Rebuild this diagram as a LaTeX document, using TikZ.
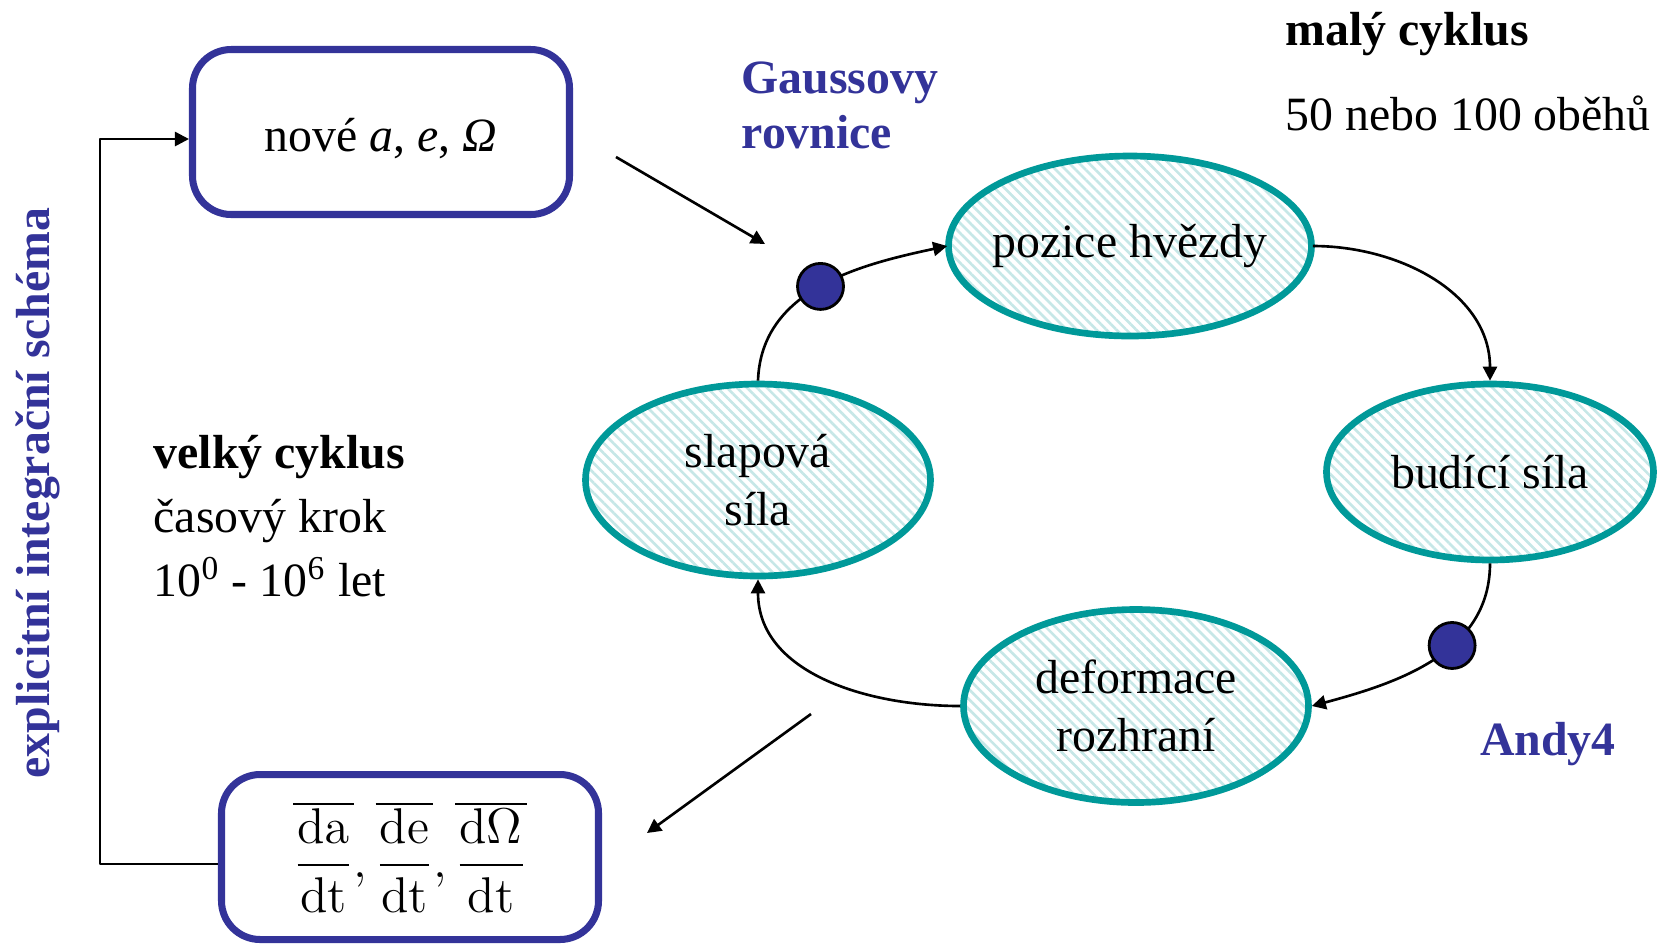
\RequirePackage{fix-cm}
\documentclass[tikz,border=0pt]{standalone}
\usepackage[no-math]{fontspec}
\setmainfont{Liberation Serif}
\usetikzlibrary{arrows.meta,shapes.geometric,patterns.meta}
\definecolor{boxblue}{RGB}{51,51,153}
\definecolor{ringteal}{RGB}{0,153,153}
\definecolor{hatchteal}{RGB}{198,231,231}
\tikzset{
	orbit/.style={ellipse, draw=ringteal, line width=1.9pt, align=center, inner sep=0pt,
		pattern={Lines[angle=-45,distance=2pt,line width=0.75pt]}, pattern color=hatchteal},
	elbox/.style={draw=boxblue, line width=2pt, rounded corners=11pt, minimum width=3.77cm, minimum height=1.65cm},
	knot/.style={circle, draw=black, line width=0.8pt, fill=boxblue, minimum size=0.46cm, inner sep=0pt},
	arr/.style={-{Triangle[length=4pt,width=4pt]}, line width=0.75pt},
	note/.style={inner sep=0pt, align=left},
}
\begin{document}
\fontsize{13.6}{16.5}\selectfont
\begin{tikzpicture}[line join=round]
	\useasboundingbox (0,0) rectangle (16.59,-9.43);
	\fill[white] (0,0) rectangle (16.59,-9.43);
	% malý cyklus
	\node[orbit, inner xsep=-0.12cm, minimum width=3.63cm, minimum height=1.80cm] (poz) at (11.30,-2.46) {pozice hvězdy};
	\node[orbit, minimum width=3.27cm, minimum height=1.76cm] (bud) at (14.90,-4.72) {budící síla};
	\node[orbit, minimum width=3.45cm, minimum height=1.93cm] (def) at (11.36,-7.06) {deformace\\rozhraní};
	\node[orbit, minimum width=3.45cm, minimum height=1.92cm] (slap) at (7.58,-4.80) {slapová\\síla};
	\draw[arr] (slap.north) to[out=88,in=192] node[knot, pos=0.5] (k1) {} (poz.west);
	\draw[arr] (poz.east) to[out=0,in=90] (bud.north);
	\draw[arr] (bud.south) to[out=-90,in=15] node[knot, pos=0.4] (k2) {} (def.east);
	\draw[arr] (def.west) to[out=180,in=-90] (slap.south);
	% velký cyklus
	\node[elbox, text height=13pt] (nove) at (3.81,-1.32) {nové \textit{a}, \textit{e}, \textit{Ω}};
	\node[elbox, font=\fontsize{14.3}{17}\selectfont] (deriv) at (4.10,-8.57) {$\displaystyle\overline{\frac{\mathrm{da}}{\mathrm{dt}}},\overline{\frac{\mathrm{de}}{\mathrm{dt}}},\overline{\frac{\mathrm{d}\Omega}{\mathrm{dt}}}$};
	\draw[arr] ([yshift=-0.07cm]deriv.west) -- ++(-1.18,0) |- ([yshift=-0.07cm]nove.west);
	\coordinate (g1) at (6.16,-1.57);
	\coordinate (g2) at (7.65,-2.44);
	\draw[arr] (g1) -- (g2);
	\coordinate (d1) at (8.11,-7.14);
	\coordinate (d2) at (6.47,-8.33);
	\draw[arr] (d1) -- (d2);
	% popisky
	\node[note, anchor=north west, text=boxblue, font=\bfseries] (gauss) at (7.41,-0.61) {Gaussovy\\[-0.9pt]rovnice};
	\node[note, anchor=base west, font=\bfseries] (maly) at (12.85,-0.45) {malý cyklus};
	\node[note, anchor=base west] (obehy) at (12.85,-1.30) {50 nebo 100 oběhů};
	\node[note, anchor=north west] (velky) at (1.53,-4.35) {\textbf{velký cyklus}\\[1.7pt]časový krok\\[1.7pt]10\textsuperscript{0} - 10\textsuperscript{6} let};
	\node[note, anchor=base, text=boxblue, font=\bfseries] (andy) at (15.48,-7.55) {Andy4};
	\node[note, rotate=90, text=boxblue, font=\bfseries] (schema) at (0.38,-4.93) {explicitní integrační schéma};
\end{tikzpicture}
\end{document}
